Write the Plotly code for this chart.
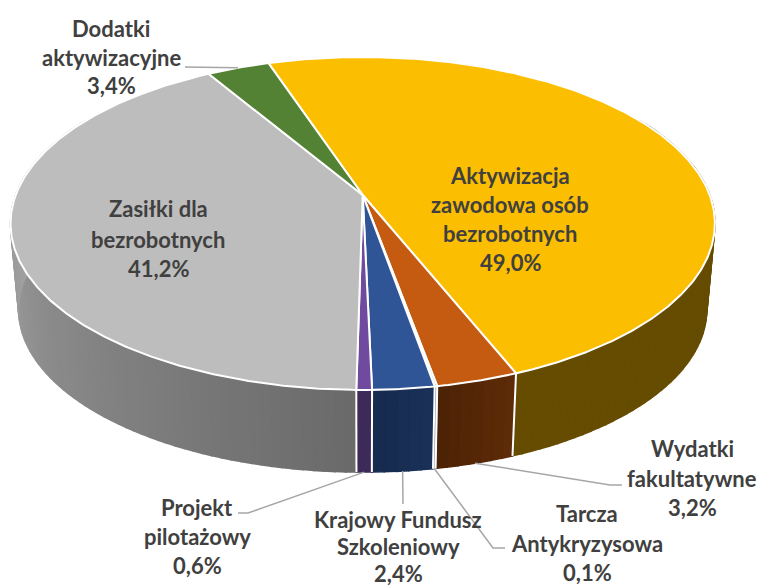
import numpy as np
import plotly.graph_objects as go

categories = ["Aktywizacja zawodowa osób bezrobotnych", "Wydatki fakultatywne", "Tarcza Antykryzysowa",
              "Krajowy Fundusz Szkoleniowy", "Projekt pilotażowy", "Zasiłki dla bezrobotnych", "Dodatki aktywizacyjne"]
values = [49.0, 3.2, 0.1, 2.4, 0.6, 41.2, 3.4]
top_colors = ["#FBBE00", "#C55A11", "#A9C4E6", "#2F5597", "#6F4A9E", "#BDBDBD", "#548235"]
wall_from = ["#654C00", "#5E2C08", "#8A9DB8", "#1A3158", "#3E2A58", "#6A6A6A", "#3A5A24"]
wall_to = ["#654C00", "#4C2205", "#8A9DB8", "#162A4E", "#3E2A58", "#B2B2B2", "#3A5A24"]
label_lines = [["Aktywizacja", "zawodowa osób", "bezrobotnych", "49,0%"],
               ["Wydatki", "fakultatywne", "3,2%"],
               ["Tarcza", "Antykryzysowa", "0,1%"],
               ["Krajowy Fundusz", "Szkoleniowy", "2,4%"],
               ["Projekt", "pilotażowy", "0,6%"],
               ["Zasiłki dla", "bezrobotnych", "41,2%"],
               ["Dodatki", "aktywizacyjne", "3,4%"]]
label_x = [510, 692, 587, 398, 197, 158, 111]
label_y = [[175, 204, 233, 262], [448, 478, 507], [513, 543, 572], [519, 546, 573],
           [507, 536, 565], [208, 239, 268], [28, 57, 85]]
leader_via = [None, [(610, 485), (622, 485)], [(493, 548), (505, 548)], [(403, 504)],
              [(248, 513), (238, 513)], None, [(185, 67)]]

START = -18.4
B = 0.171
CX = 362.7


def rim(theta_deg, cy, a, w):
    t = np.radians(theta_deg)
    u, v = np.sin(t), np.cos(t)
    d = 1 + B * v
    return CX + w * u / d, cy - a * v / d


def top(t):
    return rim(t, 195.0, 161.6, 347.0)


def low(t):
    return rim(t, 281.5, 158.0, 339.0)


def hex_rgb(h):
    return np.array([int(h[i:i + 2], 16) for i in (1, 3, 5)], float)


def mix(c1, c2, f):
    r = hex_rgb(c1) * (1 - f) + hex_rgb(c2) * f
    return "rgb(%d,%d,%d)" % tuple(r.round())


vals = np.array(values)
sweep = vals / vals.sum() * 360
edges = START + np.concatenate([[0], np.cumsum(sweep)])

fig = go.Figure()


def poly(xs, ys, fill=None, line="white", width=0):
    fig.add_trace(go.Scatter(
        x=list(xs), y=list(ys), mode="lines", hoverinfo="skip", showlegend=False,
        fill="toself" if fill else "none", fillcolor=fill,
        line=dict(color=line, width=width)))


VIS = (60.0, 300.0)
# walls
for i in range(len(vals)):
    a0, a1 = max(edges[i], VIS[0]), min(edges[i + 1], VIS[1])
    if a1 <= a0:
        continue
    n = max(1, int((a1 - a0) / 1.5))
    g = np.linspace(a0, a1, n + 1)
    for p0, p1 in zip(g[:-1], g[1:]):
        th = np.linspace(p0, p1, 3)
        tx, ty = top(th)
        lx, ly = low(th[::-1])
        f = ((p0 + p1) / 2 - a0) / (a1 - a0)
        c = mix(wall_from[i], wall_to[i], f)
        poly(np.r_[tx, lx, tx[0]], np.r_[ty, ly, ty[0]], fill=c, line=c, width=1.6)
# wall dividers
for e in edges[:-1]:
    e = (e + 360) % 360
    if VIS[0] < e < VIS[1] and e < 225:
        tx, ty = top(e)
        lx, ly = low(e)
        poly([tx, lx], [ty, ly], width=2)
# top faces
for i in range(len(vals)):
    th = np.linspace(edges[i], edges[i + 1], max(3, int(sweep[i] * 2)))
    x, y = top(th)
    poly(np.r_[CX, x, CX], np.r_[195.0, y, 195.0], fill=top_colors[i], width=2)

# leaders
for i in range(len(vals)):
    if leader_via[i] is None:
        continue
    mid = (edges[i] + edges[i + 1]) / 2
    if i == len(vals) - 1:
        sx, sy = top(mid)
    else:
        sx, sy = low(mid)
    xs = [float(sx)] + [p[0] for p in leader_via[i]]
    ys = [float(sy)] + [p[1] for p in leader_via[i]]
    poly(xs, ys, line="#A6A6A6", width=1.5)

annotations = []
for lines, x, ys in zip(label_lines, label_x, label_y):
    for s, y in zip(lines, ys):
        annotations.append(dict(x=x, y=y, text=s, xref="x", yref="y", showarrow=False,
                                xanchor="center", yanchor="middle",
                                font=dict(family="Lato", size=22, color="#404040", weight="bold")))

fig.update_layout(
    width=760, height=587, margin=dict(l=0, r=0, t=0, b=0),
    paper_bgcolor="white", plot_bgcolor="white", showlegend=False,
    xaxis=dict(range=[0, 760], visible=False, fixedrange=True),
    yaxis=dict(range=[587, 0], visible=False, fixedrange=True),
    annotations=annotations,
)
fig.write_html("out.html", config=dict(displayModeBar=False),
               post_script="document.body.style.margin='0';document.body.style.overflow='hidden';")
